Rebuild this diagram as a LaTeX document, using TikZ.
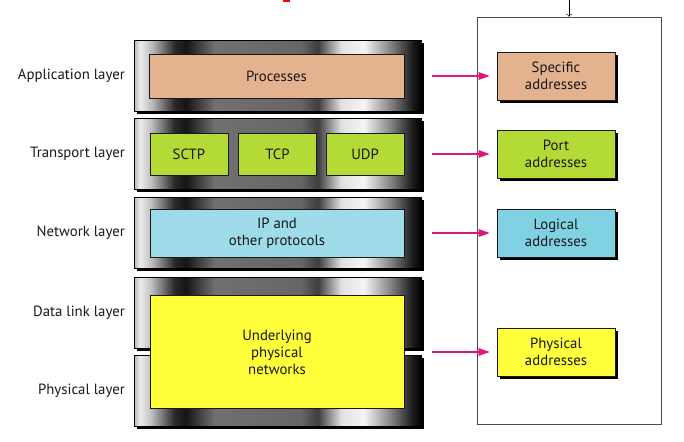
\documentclass[tikz,border=0pt]{standalone}
\usepackage{fontspec}
\setmainfont{PT Sans}
\usetikzlibrary{positioning,shadows,arrows.meta}
\definecolor{proctan}{HTML}{E3B38F}
\definecolor{translime}{HTML}{B4DA36}
\definecolor{netblue}{HTML}{9EDCEA}
\definecolor{addrblue}{HTML}{80D2E2}
\definecolor{phyyellow}{HTML}{FFFF3C}
\definecolor{arrowpink}{HTML}{E0157A}
\definecolor{inktext}{HTML}{1A1718}
\pgfdeclarehorizontalshading{layershade}{100bp}{rgb(0bp)=(0.72,0.72,0.72); rgb(25bp)=(0.72,0.72,0.72);
  rgb(26bp)=(0.93,0.93,0.93); rgb(28bp)=(0.74,0.74,0.74); rgb(32bp)=(0.16,0.16,0.16);
  rgb(34bp)=(0.08,0.08,0.08); rgb(39bp)=(0.44,0.44,0.44); rgb(54bp)=(0.40,0.40,0.40);
  rgb(57bp)=(0.24,0.24,0.24); rgb(61bp)=(0.88,0.88,0.88); rgb(65bp)=(0.96,0.96,0.96);
  rgb(70bp)=(0.48,0.48,0.48); rgb(73.5bp)=(0.10,0.10,0.10); rgb(75bp)=(0,0,0); rgb(100bp)=(0,0,0)}
\tikzset{
  layerframe/.style={draw=black, line width=0.6pt, shading=layershade, minimum width=287pt,
    minimum height=71pt, inner sep=0pt, anchor=north west,
    drop shadow={shadow xshift=3pt, shadow yshift=-3pt, opacity=1, fill=black}},
  protobox/.style={draw=inktext, line width=0.6pt, inner sep=0pt, align=center},
  addrbox/.style={draw=inktext, line width=0.6pt, inner sep=0pt, align=center,
    minimum width=118pt, minimum height=48pt,
    drop shadow={shadow xshift=3pt, shadow yshift=-3pt, opacity=1, fill=black}},
  layername/.style={inner sep=0pt},
  pinkarrow/.style={draw=arrowpink, line width=1.4pt, -{Triangle[length=11pt,width=7.5pt]},
    shorten <=28pt, shorten >=7pt}
}
\begin{document}
\begin{tikzpicture}[x=1pt, y=-1pt, font=\fontsize{14.8}{17}\selectfont, text=inktext]
  \useasboundingbox[fill=white] (0,0) rectangle (684,441);
  \fill[red] (283,0) rectangle (290,2);
  % layers
  \node[layerframe] (appframe) at (134,40) {};
  \node[layerframe] (transframe) at (134,118) {};
  \node[layerframe] (netframe) at (134,197) {};
  \node[layerframe] (dlframe) at (134,277) {};
  \node[layerframe] (phframe) at (134,355) {};
  \node[layername, left=9pt of appframe] {Application layer};
  \node[layername, left=9pt of transframe] {Transport layer};
  \node[layername, left=9pt of netframe] {Network layer};
  \node[layername, left=9pt of dlframe] {Data link layer};
  \node[layername, left=9pt of phframe] {Physical layer};
  % protocols
  \node[protobox, fill=proctan, minimum width=255pt, minimum height=44pt] (procs) at (276.5,76) {Processes};
  \node[protobox, fill=translime, minimum width=78pt, minimum height=42pt] (tcp) at (277.5,154) {TCP};
  \node[protobox, fill=translime, minimum width=78pt, minimum height=42pt, left=10pt of tcp] (sctp) {SCTP};
  \node[protobox, fill=translime, minimum width=78pt, minimum height=42pt, right=9pt of tcp] (udp) {UDP};
  \node[protobox, fill=netblue, minimum width=254pt, minimum height=48pt] (ip) at (277,233) {IP and\\other protocols};
  \node[protobox, fill=phyyellow, minimum width=254pt, minimum height=113pt] (under) at (277,352) {Underlying\\physical\\networks};
  % addresses
  \node[draw=black!70, line width=0.6pt, minimum width=184pt, minimum height=407pt] (addrspace) at (569,220.5) {};
  \coordinate (topin) at (569,0);
  \draw[->, line width=0.5pt] (topin) -- (addrspace.north);
  \node[addrbox, fill=proctan] (specific) at (556,76) {Specific\\addresses};
  \node[addrbox, fill=translime] (port) at (556,154) {Port\\addresses};
  \node[addrbox, fill=addrblue] (logical) at (556,233) {Logical\\addresses};
  \node[addrbox, fill=phyyellow] (physical) at (556,352) {Physical\\addresses};
  \draw[pinkarrow] (procs.east) -- (specific.west);
  \draw[pinkarrow] (udp.east) -- (port.west);
  \draw[pinkarrow] (ip.east) -- (logical.west);
  \draw[pinkarrow] (under.east) -- (physical.west);
\end{tikzpicture}
\end{document}
